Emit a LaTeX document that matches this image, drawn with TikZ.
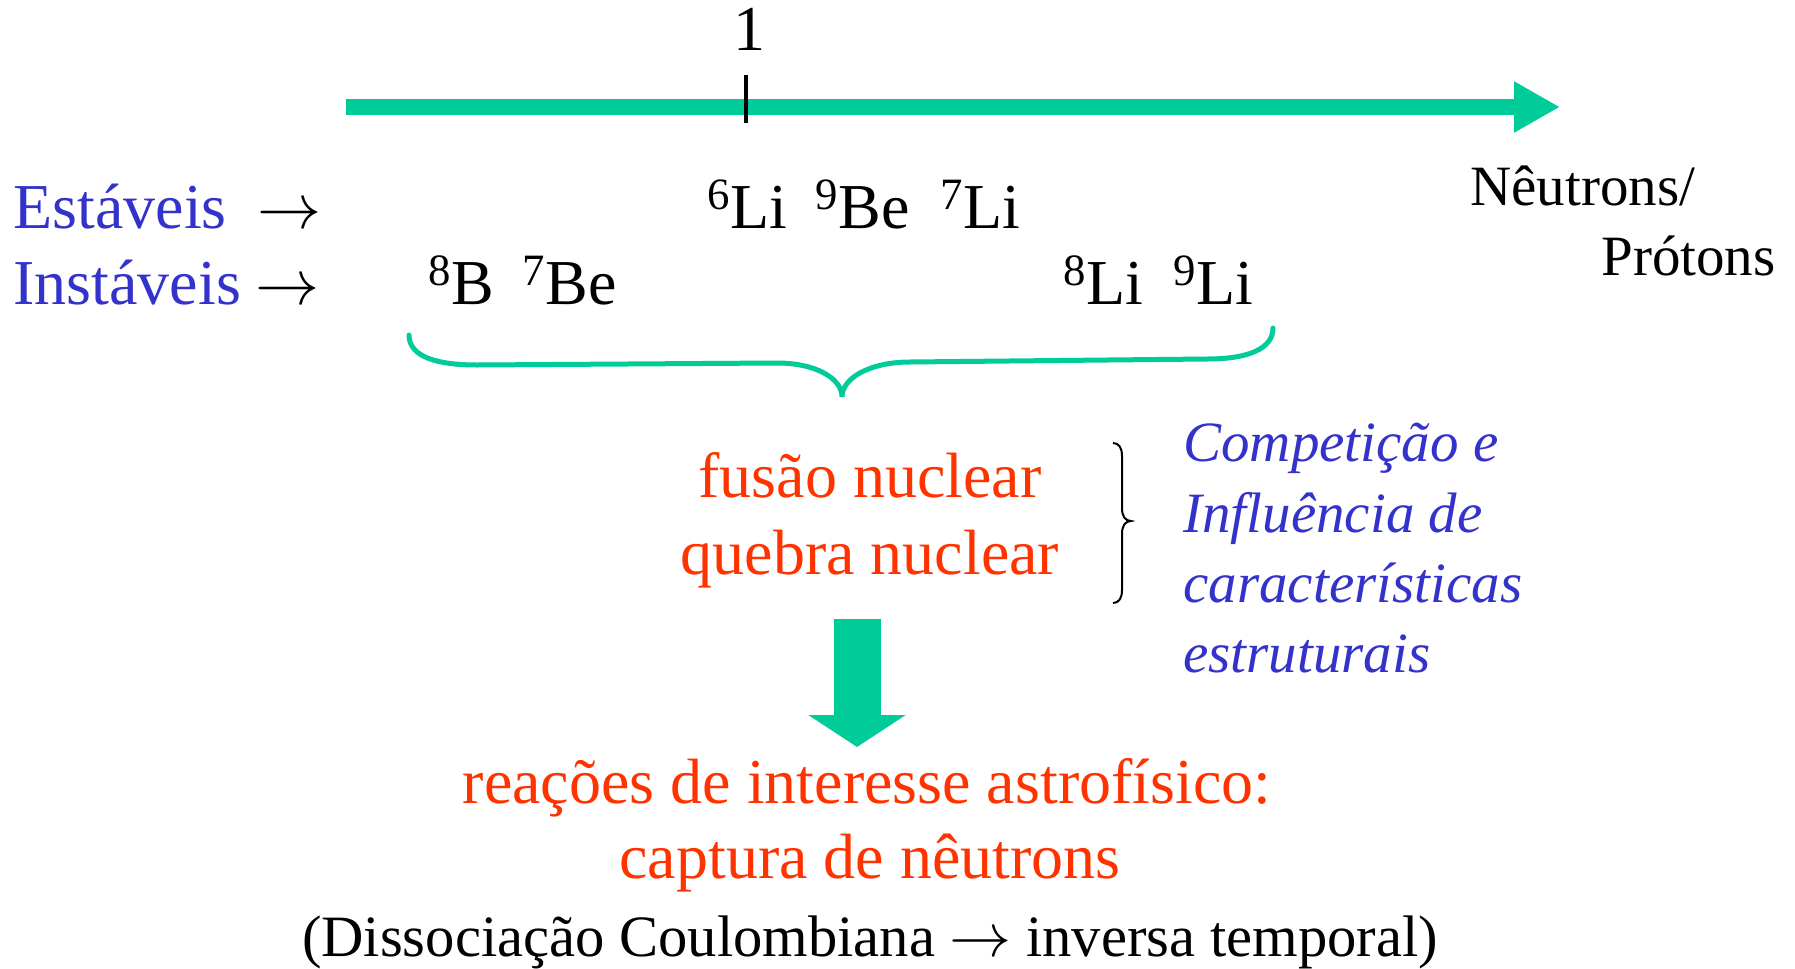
\documentclass[tikz,border=0pt]{standalone}
\usepackage{fontspec}
\setmainfont{Liberation Serif}
\usetikzlibrary{arrows.meta}
\definecolor{nGreen}{RGB}{0,204,153}
\definecolor{nBlue}{RGB}{51,51,204}
\definecolor{nRed}{RGB}{255,51,0}
\newcommand{\iso}[2]{\textsuperscript{#1}#2}
\newcommand{\toarr}{\scalebox{3.1}{\fontsize{10}{12}\selectfont$\rightarrow$}}

\begin{document}
\begin{tikzpicture}[
    x=0.5pt, y=-0.5pt,
    big/.style={inner sep=0pt, font=\fontsize{32}{38}\selectfont},
    small/.style={inner sep=0pt, font=\fontsize{28.5}{34}\selectfont},
    lbl/.style={big, anchor=base west},
    sym/.style={inner sep=0pt, anchor=base west, font=\normalsize, scale=3.2},
    note/.style={small, nBlue, anchor=base west, font=\fontsize{28.5}{34}\selectfont\itshape},
    mid/.style={big, nRed, anchor=base}
]
  \useasboundingbox (0,0) rectangle (1795,969);

  \coordinate (axisL) at (346,107);
  \coordinate (axisR) at (1560,107);
  \draw[nGreen, line width=8pt, -{Triangle[length=23pt,width=24pt]}] (axisL) -- (axisR);
  \coordinate (tickT) at (746,75);
  \coordinate (tickB) at (746,123);
  \draw[line width=2pt] (tickT) -- (tickB);
  \node[big, anchor=base] (one) at (749,50) {1};

  \node[small, anchor=base west] (neu) at (1470,205) {Nêutrons/};
  \node[small, anchor=base west] (prot) at (1601,275) {Prótons};

  \node[lbl, nBlue] (est) at (13,228) {Estáveis};
  \node[sym] (estArr) at (256,228) {$\rightarrow$};
  \node[lbl, nBlue] (inst) at (13,304) {Instáveis};
  \node[sym] (instArr) at (254,304) {$\rightarrow$};

  \node[lbl] (li6) at (707,228) {\iso{6}{Li}};
  \node[lbl] (be9) at (815,228) {\iso{9}{Be}};
  \node[lbl] (li7) at (940,228) {\iso{7}{Li}};
  \node[lbl] (b8) at (428,304) {\iso{8}{B}};
  \node[lbl] (be7) at (522,304) {\iso{7}{Be}};
  \node[lbl] (li8) at (1063,304) {\iso{8}{Li}};
  \node[lbl] (li9) at (1173,304) {\iso{9}{Li}};

  \draw[nGreen, line width=2.5pt, line cap=round]
    (409,335) .. controls (409,358) and (440,365) .. (477,365) -- (777,363)
    .. controls (815,363) and (842,378) .. (842,397)
    .. controls (842,378) and (870,362) .. (910,362) -- (1207,359)
    .. controls (1250,359) and (1273,348) .. (1273,328);

  \node[mid] (fus) at (870,497) {fusão nuclear};
  \node[mid] (queb) at (870,574) {quebra nuclear};

  \draw[line width=1pt]
    (1113,443) .. controls (1119,443) and (1122,448) .. (1122,456) -- (1122,508)
    .. controls (1122,516) and (1125,521) .. (1131,521)
    .. controls (1125,521) and (1122,526) .. (1122,534) -- (1122,590)
    .. controls (1122,598) and (1119,603) .. (1113,603);

  \node[note] (comp) at (1183,461) {Competição e};
  \node[note] (infl) at (1183,532) {Influência de};
  \node[note] (carac) at (1183,602) {características};
  \node[note] (estr) at (1183,672) {estruturais};

  \coordinate (downT) at (857,619);
  \coordinate (downB) at (857,747);
  \draw[nGreen, line width=23.5pt, -{Triangle[length=16pt,width=48pt]}] (downT) -- (downB);

  \node[mid] (reac) at (867,803) {reações de interesse astrofísico:};
  \node[mid] (capt) at (870,878) {captura de nêutrons};
  \node[anchor=base, inner sep=0pt, font=\fontsize{29.3}{35}\selectfont] (diss) at (870,956) {(Dissociação Coulombiana \toarr{} inversa temporal)};
\end{tikzpicture}
\end{document}
